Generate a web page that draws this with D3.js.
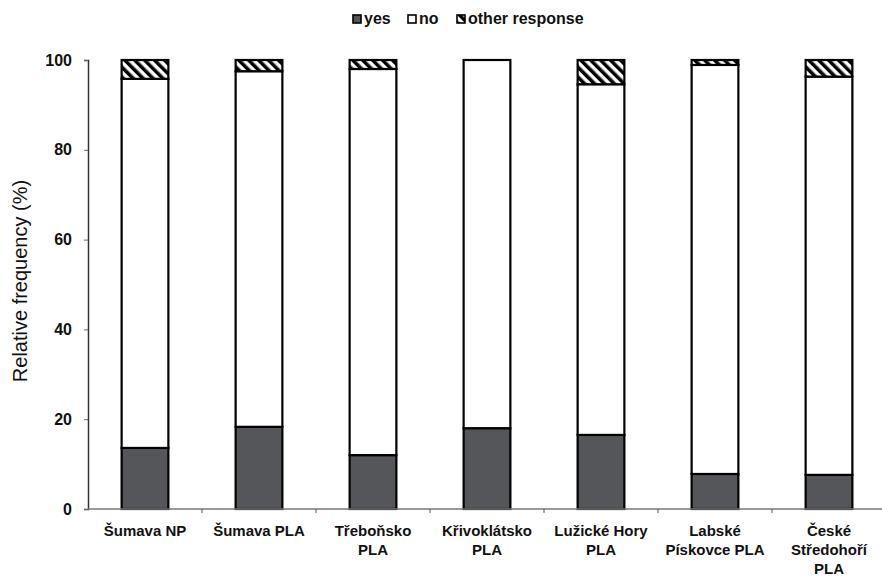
<!DOCTYPE html>
<html>
  <head>
    <meta charset="utf-8">
    <style>
      body { margin: 0; background: #fff; }
      svg text { font-family: "Liberation Sans", Arial, sans-serif; }
    </style>
  </head>
  <body>
    <div id='graph'></div>
    <script src="https://cdn.jsdelivr.net/npm/d3@7"></script>
    <script>

    var categories = [
      ['Šumava NP'],
      ['Šumava PLA'],
      ['Třeboňsko', 'PLA'],
      ['Křivoklátsko', 'PLA'],
      ['Lužické Hory', 'PLA'],
      ['Labské', 'Pískovce PLA'],
      ['České', 'Středohoří', 'PLA']
    ];
    var yesVals   = [13.6, 18.3, 12.0, 18.0, 16.5, 7.8, 7.6];
    var otherVals = [4.2, 2.5, 2.0, 0, 5.4, 1.1, 3.7];
    var noVals    = yesVals.map(function(d, i){ return 100 - d - otherVals[i]; });
    var yTicks    = [0, 20, 40, 60, 80, 100];
    var seriesNames = ['yes', 'no', 'other response'];

    var width = 882, height = 578;
    var svg = d3.select('#graph').append('svg')
        .attr('width', width)
        .attr('height', height);

    var defs = svg.append('defs');
    var pat = defs.append('pattern')
        .attr('id', 'hatch')
        .attr('patternUnits', 'userSpaceOnUse')
        .attr('width', 7).attr('height', 7)
        .attr('patternTransform', 'rotate(-45)');
    pat.append('rect').attr('width', 7).attr('height', 7).attr('fill', '#fff');
    pat.append('rect').attr('width', 3.5).attr('height', 7).attr('fill', '#000');

    var x = d3.scaleBand()
        .domain(d3.range(categories.length))
        .range([88, 886])
        .padding(0);

    var y = d3.scaleLinear()
        .domain([0, 100])
        .range([509, 60]);

    var barW = x.bandwidth() * 0.41;

    // stacked data
    var stacked = categories.map(function(c, i){
      return [
        {y0: 0, y1: yesVals[i], fill: '#555659'},
        {y0: yesVals[i], y1: yesVals[i] + noVals[i], fill: '#fff'},
        {y0: yesVals[i] + noVals[i], y1: 100, fill: 'url(#hatch)'}
      ];
    });

    var groups = svg.selectAll('.bar')
        .data(stacked)
        .enter().append('g')
        .attr('class', 'bar')
        .attr('transform', function(d, i){ return 'translate(' + (x(i) + x.bandwidth()/2 - barW/2) + ',0)'; });

    groups.selectAll('rect')
        .data(function(d){ return d.filter(function(s){ return s.y1 - s.y0 > 0; }); })
        .enter().append('rect')
        .attr('x', 0)
        .attr('width', barW)
        .attr('y', function(d){ return y(d.y1); })
        .attr('height', function(d){ return y(d.y0) - y(d.y1); })
        .attr('fill', function(d){ return d.fill; })
        .attr('stroke', '#000')
        .attr('stroke-width', 2.2);

    // y axis
    var yAxis = svg.append('g')
        .attr('transform', 'translate(88,0)')
        .call(d3.axisLeft(y).tickValues(yTicks).tickSize(4).tickPadding(12));
    yAxis.select('.domain').attr('stroke', '#333').attr('stroke-width', 1.5);
    yAxis.selectAll('.tick line').attr('stroke', '#666');
    yAxis.selectAll('.tick text')
        .attr('font-size', 16).attr('font-weight', 'bold').attr('fill', '#111');

    // x axis
    var xAxisG = svg.append('g').attr('transform', 'translate(0,509)');
    xAxisG.append('line')
        .attr('x1', 88).attr('x2', 886)
        .attr('stroke', '#777').attr('stroke-width', 1.5);
    xAxisG.selectAll('.xt')
        .data(d3.range(1, categories.length))
        .enter().append('line')
        .attr('x1', function(i){ return x(i); })
        .attr('x2', function(i){ return x(i); })
        .attr('y1', 0).attr('y2', 4)
        .attr('stroke', '#555');

    var labels = xAxisG.selectAll('.xl')
        .data(categories)
        .enter().append('text')
        .attr('text-anchor', 'middle')
        .attr('font-size', 15)
        .attr('font-weight', 'bold')
        .attr('fill', '#111')
        .attr('transform', function(d, i){ return 'translate(' + (x(i) + x.bandwidth()/2) + ',27)'; });
    labels.selectAll('tspan')
        .data(function(d){ return d; })
        .enter().append('tspan')
        .attr('x', 0)
        .attr('dy', function(d, j){ return j ? 19 : 0; })
        .text(function(d){ return d; });

    // y label
    svg.append('text')
        .attr('transform', 'translate(27,281) rotate(-90)')
        .attr('text-anchor', 'middle')
        .attr('font-size', 20)
        .attr('fill', '#111')
        .text('Relative frequency (%)');

    // legend
    var legendX = [353, 408, 457];
    var legendFill = ['#555659', '#fff', 'url(#hatch)'];
    var leg = svg.selectAll('.leg')
        .data(seriesNames)
        .enter().append('g')
        .attr('transform', function(d, i){ return 'translate(' + legendX[i] + ',15)'; });
    leg.append('rect')
        .attr('width', 8).attr('height', 8)
        .attr('fill', function(d, i){ return legendFill[i]; })
        .attr('stroke', '#000').attr('stroke-width', 1.6);
    leg.append('text')
        .attr('x', 11).attr('y', 9)
        .attr('font-size', 16)
        .attr('font-weight', 'bold')
        .attr('fill', '#111')
        .text(function(d){ return d; });

    </script>
  </body>
</html>
